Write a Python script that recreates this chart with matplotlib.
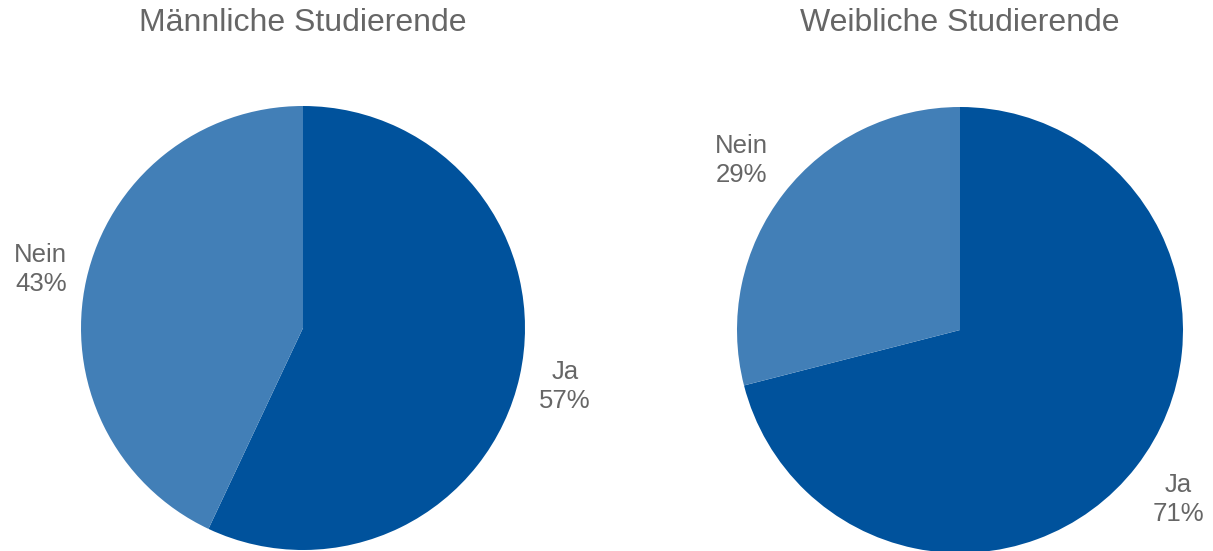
import matplotlib.pyplot as plt

plt.rcParams['font.family'] = ['Liberation Sans', 'DejaVu Sans']

categories = ['Ja', 'Nein']
maennlich = [57, 43]
weiblich = [71, 29]
titles = ['Männliche Studierende', 'Weibliche Studierende']

colors = ['#00529C', '#427FB7']
text_color = '#666666'

W, H = 1213, 551
fig = plt.figure(figsize=(W / 100, H / 100), dpi=100)


def draw_pie(values, cx, cy, r, title, dist):
    # cx, cy, r in pixels (y from top)
    ax = fig.add_axes([(cx - r) / W, (H - cy - r) / H, 2 * r / W, 2 * r / H])
    labels = [f'{c}\n{v}%' for c, v in zip(categories, values)]
    wedges, texts = ax.pie(values, labels=labels, colors=colors, startangle=90,
                           counterclock=False, labeldistance=dist,
                           wedgeprops=dict(linewidth=0),
                           textprops=dict(color=text_color, fontsize=18.5,
                                          linespacing=1.25))
    for t in texts:
        t.set_horizontalalignment('center')
        t.set_verticalalignment('center')
    ax.set_xlim(-1, 1)
    ax.set_ylim(-1, 1)
    ax.set_aspect('equal')
    fig.text(cx / W, 1 - 23 / H, title, ha='center', va='center',
             fontsize=23, color=text_color)


draw_pie(maennlich, 303, 328, 222, titles[0], 1.21)
draw_pie(weiblich, 960, 330, 223, titles[1], 1.24)

fig.savefig('out.png', dpi=100)
